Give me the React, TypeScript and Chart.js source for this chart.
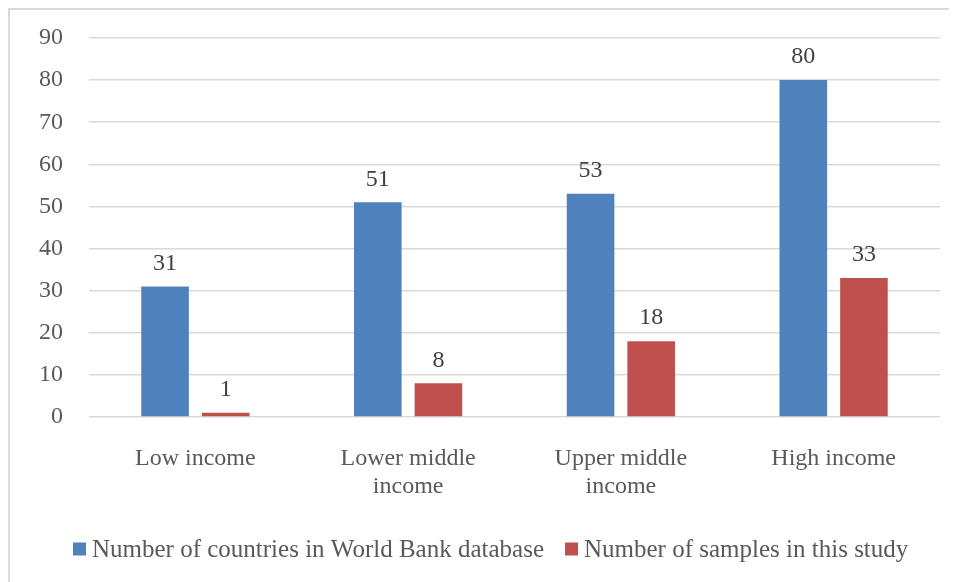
import React, { useEffect, useRef } from "react";
import { Chart, registerables } from "chart.js";

Chart.register(...registerables);

const categories: string[][] = [
  ["Low income"],
  ["Lower middle", "income"],
  ["Upper middle", "income"],
  ["High income"],
];
const worldBankCountries = [31, 51, 53, 80];
const studySamples = [1, 8, 18, 33];
const yTicks = [0, 10, 20, 30, 40, 50, 60, 70, 80, 90];
const seriesNames = [
  "Number of countries in World Bank database",
  "Number of samples in this study",
];
const seriesColors = ["#4F81BD", "#C0504D"];

const FONT = "'Liberation Serif', 'Times New Roman', serif";

const valueLabels = {
  id: "valueLabels",
  afterDatasetsDraw(chart: any) {
    const ctx = chart.ctx;
    ctx.save();
    ctx.font = `24px ${FONT}`;
    ctx.fillStyle = "#404040";
    ctx.textAlign = "center";
    ctx.textBaseline = "bottom";
    chart.data.datasets.forEach((ds: any, i: number) => {
      const meta = chart.getDatasetMeta(i);
      meta.data.forEach((bar: any, j: number) => {
        ctx.fillText(String(ds.data[j]), bar.x, bar.y - 11);
      });
    });
    ctx.restore();
  },
};

const customLegend = {
  id: "customLegend",
  afterDraw(chart: any) {
    const ctx = chart.ctx;
    ctx.save();
    ctx.font = `25px ${FONT}`;
    ctx.textBaseline = "middle";
    ctx.textAlign = "left";
    const box = 13;
    const gap = 6;
    const itemGap = 21;
    let x = 63;
    const y = 539;
    chart.data.datasets.forEach((ds: any) => {
      ctx.fillStyle = ds.backgroundColor;
      ctx.fillRect(x, y - box / 2, box, box);
      ctx.fillStyle = "#595959";
      ctx.fillText(ds.label, x + box + gap, y + 1);
      x += box + gap + ctx.measureText(ds.label).width + itemGap;
    });
    ctx.restore();
  },
};

export default function App() {
  const ref = useRef<HTMLCanvasElement | null>(null);

  useEffect(() => {
    if (!ref.current) return;
    const chart = new Chart(ref.current, {
      type: "bar",
      data: {
        labels: categories,
        datasets: [
          {
            label: seriesNames[0],
            data: worldBankCountries,
            backgroundColor: seriesColors[0],
            categoryPercentage: 0.57,
            barPercentage: 0.785,
          },
          {
            label: seriesNames[1],
            data: studySamples,
            backgroundColor: seriesColors[1],
            categoryPercentage: 0.57,
            barPercentage: 0.785,
          },
        ],
      },
      options: {
        responsive: false,
        animation: false,
        layout: { padding: { top: 28, right: 9, bottom: 55, left: 0 } },
        plugins: {
          legend: { display: false },
          tooltip: { enabled: false },
        },
        scales: {
          x: {
            grid: { display: false, drawTicks: false },
            border: { display: false },
            ticks: {
              font: { family: FONT, size: 24 },
              color: "#595959",
              padding: 27,
              maxRotation: 0,
              autoSkip: false,
            },
            afterFit: (scale: any) => {
              scale.height = 110;
            },
          },
          y: {
            min: 0,
            max: 90,
            afterBuildTicks: (scale: any) => {
              scale.ticks = yTicks.map((v) => ({ value: v }));
            },
            grid: { color: "#d9d9d9", lineWidth: 1.5, drawTicks: false },
            border: { display: false },
            ticks: {
              font: { family: FONT, size: 24 },
              color: "#595959",
              padding: 26,
            },
            afterFit: (scale: any) => {
              scale.width = 79;
              scale.paddingTop = 10;
              scale.paddingBottom = 10;
            },
          },
        },
      },
      plugins: [valueLabels, customLegend],
    });
    return () => chart.destroy();
  }, []);

  return (
    <div
      style={{
        borderTop: "2px solid #d9d9d9",
        borderLeft: "2px solid #d9d9d9",
        width: 947,
        height: 572,
      }}
    >
      <canvas ref={ref} width={939} height={572} style={{ display: "block" }} />
    </div>
  );
}
